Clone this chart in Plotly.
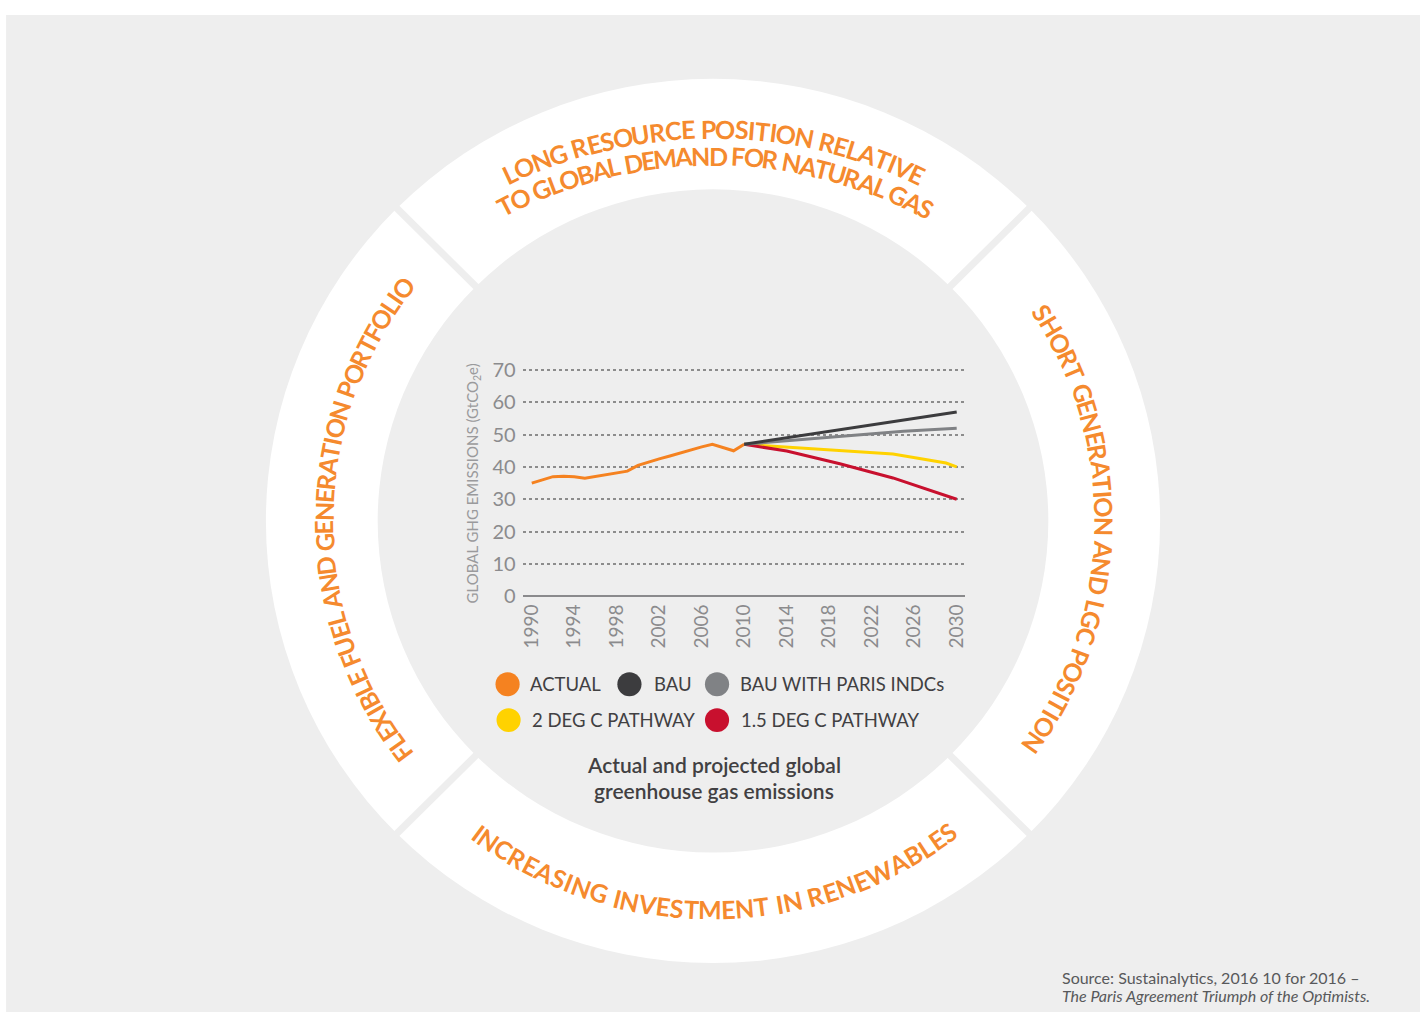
import math
import plotly.graph_objects as go

# Figure size; the page (with the browser's 8px body margin) is captured and
# fitted into the 1422x1021 picture, so page pixels are converted below.
W, H = 1422, 1021
OFF = 8
SX = 1422 / (W + 2 * OFF)
SY = 1021 / (H + 2 * OFF)

# ---------------- data ----------------
actual_years = list(range(1990, 2011))
actual_vals = [35.0, 36.0, 37.0, 37.1, 37.0, 36.5, 37.0, 37.5, 38.0, 38.7, 40.5,
               41.6, 42.5, 43.4, 44.4, 45.3, 46.2, 47.0, 46.0, 45.0, 47.0]
bau_years = [2010, 2020, 2030]
bau_vals = [47.0, 52.0, 57.0]
paris_years = [2010, 2015, 2020, 2025, 2030]
paris_vals = [47.0, 48.4, 49.7, 51.0, 52.0]
deg2_years = [2010, 2014, 2019, 2024, 2029, 2030]
deg2_vals = [47.0, 46.2, 45.1, 44.0, 41.2, 40.0]
deg15_years = [2010, 2014, 2019, 2024, 2030]
deg15_vals = [47.0, 44.9, 41.0, 36.6, 30.0]

series_names = ["ACTUAL", "BAU", "BAU WITH PARIS INDCs", "2 DEG C PATHWAY", "1.5 DEG C PATHWAY"]
series_colors = ["#F58220", "#3C3C3E", "#808285", "#FFD200", "#C8102E"]

x_ticks = list(range(1990, 2031, 4))
y_ticks = list(range(0, 71, 10))

ring_texts = {
    "top1": "LONG RESOURCE POSITION RELATIVE",
    "top2": "TO GLOBAL DEMAND FOR NATURAL GAS",
    "right": "SHORT GENERATION AND LGC POSITION",
    "bottom": "INCREASING INVESTMENT IN RENEWABLES",
    "left": "FLEXIBLE FUEL AND GENERATION PORTFOLIO",
}
caption = ["Actual and projected global", "greenhouse gas emissions"]
source = ["Source: Sustainalytics, 2016 10 for 2016 \u2013",
          "<i>The Paris Agreement Triumph of the Optimists.</i>"]

# ---------------- helpers (picture pixels -> paper) ----------------
def X(px):
    return (px / SX - OFF) / W

def Y(py):
    return 1 - (py / SY - OFF) / H

ORANGE = "#F58A2E"
BG = "#EEEEEE"
CX, CY = 712, 520
R_OUT, R_IN = 444, 333

fig = go.Figure()

fig.add_trace(go.Scatter(x=actual_years, y=actual_vals, mode="lines",
                         line=dict(color=series_colors[0], width=3), name=series_names[0]))
fig.add_trace(go.Scatter(x=deg2_years, y=deg2_vals, mode="lines",
                         line=dict(color=series_colors[3], width=3), name=series_names[3]))
fig.add_trace(go.Scatter(x=deg15_years, y=deg15_vals, mode="lines",
                         line=dict(color=series_colors[4], width=3), name=series_names[4]))
fig.add_trace(go.Scatter(x=paris_years, y=paris_vals, mode="lines",
                         line=dict(color=series_colors[2], width=3), name=series_names[2]))
fig.add_trace(go.Scatter(x=bau_years, y=bau_vals, mode="lines",
                         line=dict(color=series_colors[1], width=3), name=series_names[1]))

shapes = []
annotations = []

# background panel
shapes.append(dict(type="rect", xref="paper", yref="paper", x0=X(10), x1=1.0, y0=0.0, y1=Y(12),
                   fillcolor=BG, line=dict(width=0), layer="below"))
# white ring
shapes.append(dict(type="circle", xref="paper", yref="paper",
                   x0=X(CX - R_OUT), x1=X(CX + R_OUT), y0=Y(CY + R_OUT), y1=Y(CY - R_OUT),
                   fillcolor="white", line=dict(width=0), layer="below"))
# separators
for a in (45, 135, 225, 315):
    t = math.radians(a)
    shapes.append(dict(type="line", xref="paper", yref="paper",
                       x0=X(CX + 300 * math.cos(t)), y0=Y(CY - 300 * math.sin(t)),
                       x1=X(CX + 460 * math.cos(t)), y1=Y(CY - 460 * math.sin(t)),
                       line=dict(color=BG, width=7), layer="below"))
# inner grey disc
shapes.append(dict(type="circle", xref="paper", yref="paper",
                   x0=X(CX - R_IN), x1=X(CX + R_IN), y0=Y(CY + R_IN), y1=Y(CY - R_IN),
                   fillcolor=BG, line=dict(width=0), layer="below"))

# ---------------- curved ring text ----------------
WID = {"A": .69, "B": .66, "C": .66, "D": .74, "E": .57, "F": .55, "G": .72, "H": .76, "I": .30,
       "L": .52, "M": .90, "N": .76, "O": .80, "P": .62, "R": .64, "S": .55, "T": .60, "U": .73,
       "V": .68, "W": 1.0, "X": .66, "Y": .63, " ": .26}


def arc_text(text, r, center_deg, span_deg, size, clockwise=True, cx=CX, cy=CY):
    ws = [WID.get(c, .6) * size for c in text]
    inner = sum(ws) - ws[0] / 2 - ws[-1] / 2
    span_len = math.radians(span_deg) * r
    track = (span_len - inner) / (len(text) - 1)
    pos = []
    cum = 0.0
    for i, w in enumerate(ws):
        if i > 0:
            cum += ws[i - 1] / 2 + w / 2 + track
        pos.append(cum)
    half = pos[-1] / 2
    for c, p in zip(text, pos):
        if c == " ":
            continue
        s = (p - half) / r
        if clockwise:
            th = math.radians(center_deg) - s
            ang = 90 - math.degrees(th)
        else:
            th = math.radians(center_deg) + s
            ang = -90 - math.degrees(th)
        ang = (ang + 180) % 360 - 180
        x = cx + r * math.cos(th)
        y = cy - r * math.sin(th)
        annotations.append(dict(x=X(x), y=Y(y), xref="paper", yref="paper", text=c,
                                textangle=ang, showarrow=False, xanchor="center", yanchor="middle",
                                font=dict(family="Lato", size=size, color=ORANGE, weight=700)))


FS = 25
arc_text(ring_texts["top1"], 474, 90, 50.6, FS, cy=600)
arc_text(ring_texts["top2"], 447, 89.6, 55.6, FS, cy=600)
arc_text(ring_texts["right"], 389, -1.2, 67.5, FS)
arc_text(ring_texts["bottom"], 390, 270, 73.5, FS, clockwise=False)
arc_text(ring_texts["left"], 387, 180, 74.4, FS)

# ---------------- legend ----------------
legend_rows = [
    [(0, 508, 528), (1, 629, 651), (2, 716, 737)],
    [(3, 509, 530), (4, 716, 738)],
]
legend_y = [684, 720]
for row, ly in zip(legend_rows, legend_y):
    for idx, cxp, tx in row:
        shapes.append(dict(type="circle", xref="paper", yref="paper",
                           x0=X(cxp - 12), x1=X(cxp + 12), y0=Y(ly + 12), y1=Y(ly - 12),
                           fillcolor=series_colors[idx], line=dict(width=0), layer="above"))
        annotations.append(dict(x=X(tx), y=Y(ly), xref="paper", yref="paper", text=series_names[idx],
                                showarrow=False, xanchor="left", yanchor="middle",
                                font=dict(family="Lato", size=18.5, color="#414042")))

# caption
for line, ly in zip(caption, [765, 791]):
    annotations.append(dict(x=X(713), y=Y(ly), xref="paper", yref="paper", text=line, showarrow=False,
                            xanchor="center", yanchor="middle",
                            font=dict(family="Lato", size=21, color="#414042", weight=600)))

# source
for line, ly in zip(source, [978, 997]):
    annotations.append(dict(x=X(1057), y=Y(ly), xref="paper", yref="paper", text=line, showarrow=False,
                            xanchor="left", yanchor="middle",
                            font=dict(family="Lato", size=16, color="#58595B")))

# y-axis title
annotations.append(dict(x=X(474), y=Y(482), xref="paper", yref="paper",
                        text="GLOBAL GHG EMISSIONS (GtCO<sub>2</sub>e)", textangle=-90, showarrow=False,
                        xanchor="center", yanchor="middle",
                        font=dict(family="Lato", size=15, color="#9A9A9C")))

# axis mapping (picture pixels: 1990 at 532, 2030 at 954; 0 at 595.7, 70 at 368.3)
PX_L, PX_R, PY_B, PY_T = 523, 962, 598, 366
yr_px = 422 / 40
x_left = 1990 - (532 - PX_L) / yr_px
x_right = 2030 + (PX_R - 954) / yr_px
u_px = 227.4 / 70
y_bot = -(PY_B - 595.7) / u_px
y_top = 70 + (368.3 - PY_T) / u_px

fig.update_layout(
    width=W, height=H,
    margin=dict(l=0, r=0, t=0, b=0),
    paper_bgcolor="white",
    plot_bgcolor="rgba(0,0,0,0)",
    showlegend=False,
    shapes=shapes,
    annotations=annotations,
    xaxis=dict(domain=[X(PX_L), X(PX_R)], range=[x_left, x_right], showgrid=False, zeroline=False,
               showline=False, tickvals=x_ticks, ticktext=[str(v) for v in x_ticks], tickangle=-90,
               ticks="", ticklabelstandoff=1,
               tickfont=dict(family="Lato", size=19, color="#8B8B8D")),
    yaxis=dict(domain=[Y(PY_B), Y(PY_T)], range=[y_bot, y_top], tickvals=y_ticks,
               showgrid=True, gridcolor="#8C8C8C", gridwidth=1.5, griddash="dot",
               zeroline=True, zerolinecolor="#8A8A8C", zerolinewidth=2, showline=False,
               ticks="", ticklabelstandoff=6,
               tickfont=dict(family="Lato", size=20, color="#8B8B8D")),
)

fig.write_html("out.html")
